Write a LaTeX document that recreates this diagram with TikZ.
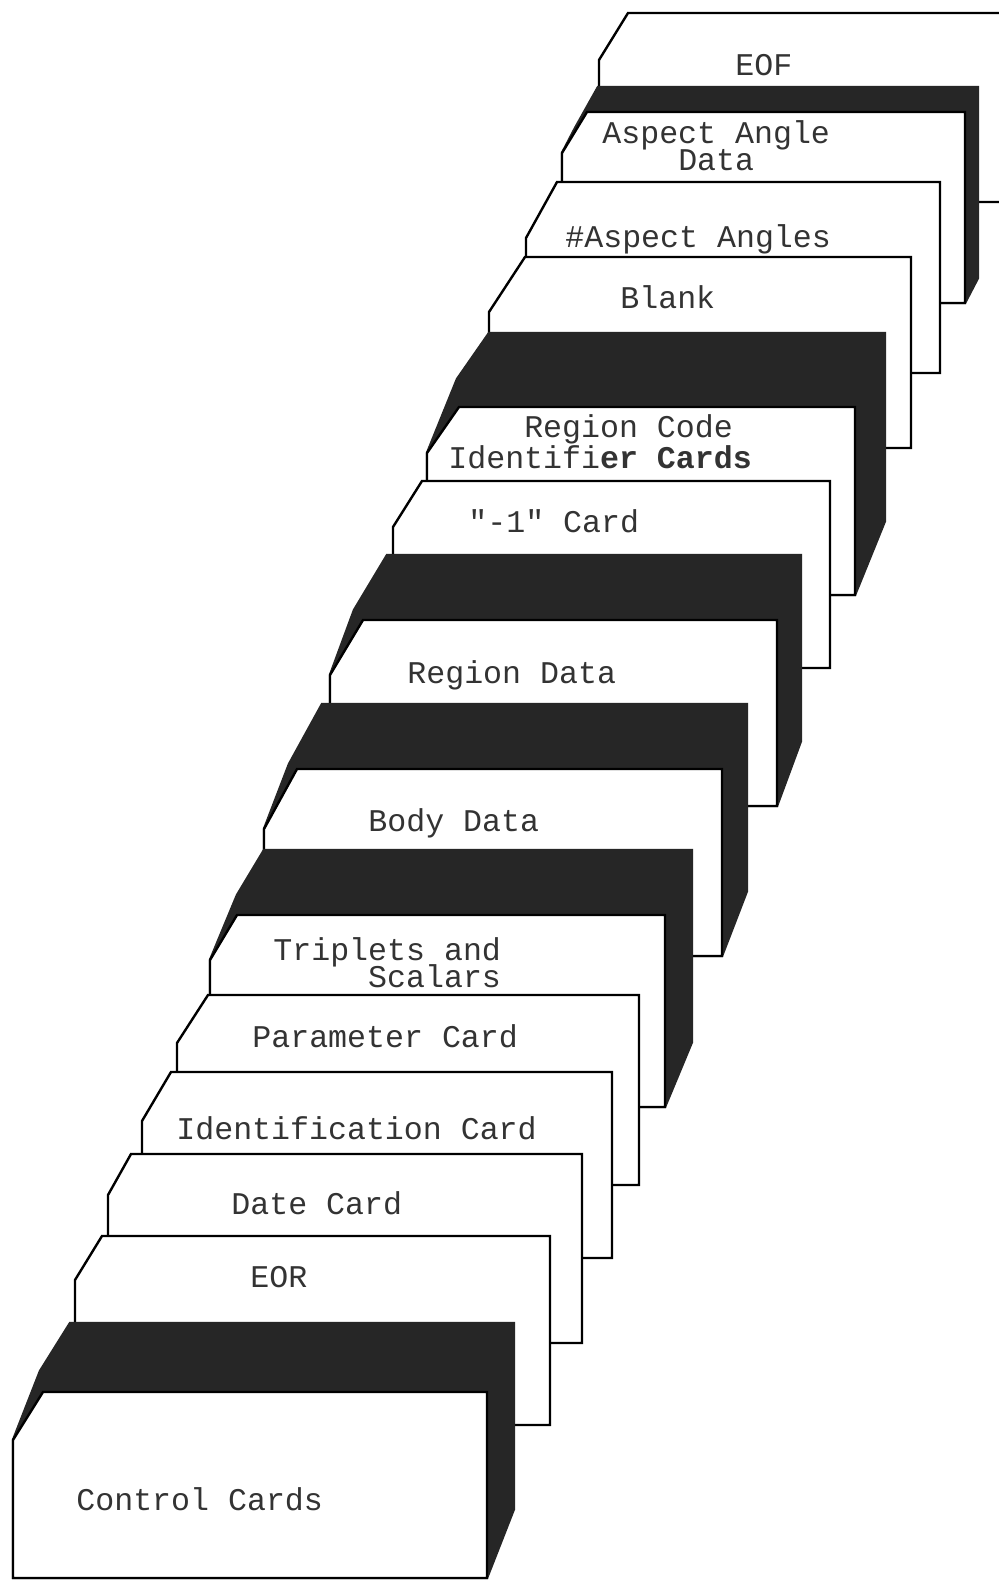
\documentclass[tikz,border=0pt]{standalone}
\usepackage{fontspec}
\setmonofont{Liberation Mono}
\usepackage{tikz}

\begin{document}
\begin{tikzpicture}[x=0.5pt,y=-0.5pt]
\tikzset{card/.style={draw=black,fill=white,line width=1.2pt,line join=miter}}
\tikzset{deck/.style={draw=black!85,fill=black!85,line width=1.2pt,line join=miter}}
\tikzset{lbl/.style={anchor=base west,inner sep=0pt,text=black!80,font={\ttfamily\fontsize{15.8}{15.5}\selectfont\lineskiplimit=-20pt}}}
\useasboundingbox (0,0) rectangle (999,1580);
\clip (0,0) rectangle (999,1580);

\draw [card] (599,202) -- (599,60) -- (628,13) -- (1020,13) -- (1020,202) -- cycle;
\node (eof) at (735,75) [lbl] {EOF};

\draw [deck] (562,303) -- (562,153) -- (575,128) -- (598,87) -- (978,87) -- (978,278) -- (965,303) -- cycle;
\draw [card] (562,303) -- (562,153) -- (587,112) -- (965,112) -- (965,303) -- cycle;
\node (aspdata) at (602,170) [lbl,align=center] {Aspect Angle\\[-2pt]Data};

\draw [card] (526,373) -- (526,238) -- (557,182) -- (940,182) -- (940,373) -- cycle;
\node (naspect) at (565,247) [lbl] {\#Aspect Angles};

\draw [card] (489,448) -- (489,312) -- (525,257) -- (911,257) -- (911,448) -- cycle;
\node (blank) at (620,308) [lbl] {Blank};

\draw [deck] (427,595) -- (427,453) -- (457,379) -- (489,333) -- (885,333) -- (885,521) -- (855,595) -- cycle;
\draw [card] (427,595) -- (427,453) -- (459,407) -- (855,407) -- (855,595) -- cycle;
\node (regcode) at (448,468) [lbl,align=left] {\phantom{Iden}Region Code\\Identifi{\bfseries er Cards}};

\draw [card] (393,668) -- (393,527) -- (422,481) -- (830,481) -- (830,668) -- cycle;
\node (minusone) at (468,532) [lbl] {"-1" Card};

\draw [deck] (330,806) -- (330,675) -- (354,610) -- (387,555) -- (801,555) -- (801,741) -- (777,806) -- cycle;
\draw [card] (330,806) -- (330,675) -- (363,620) -- (777,620) -- (777,806) -- cycle;
\node (regdata) at (407,683) [lbl] {Region Data};

\draw [deck] (264,956) -- (264,829) -- (289,764) -- (322,704) -- (747,704) -- (747,891) -- (722,956) -- cycle;
\draw [card] (264,956) -- (264,829) -- (297,769) -- (722,769) -- (722,956) -- cycle;
\node (bodydata) at (368,831) [lbl] {Body Data};

\draw [deck] (210,1107) -- (210,960) -- (237,895) -- (264,850) -- (692,850) -- (692,1042) -- (665,1107) -- cycle;
\draw [card] (210,1107) -- (210,960) -- (237,915) -- (665,915) -- (665,1107) -- cycle;
\node (triplets) at (273,987) [lbl,align=right] {Triplets and\\[-2pt]Scalars};

\draw [card] (177,1185) -- (177,1043) -- (208,995) -- (639,995) -- (639,1185) -- cycle;
\node (param) at (252,1047) [lbl] {Parameter Card};

\draw [card] (142,1258) -- (142,1121) -- (171,1072) -- (612,1072) -- (612,1258) -- cycle;
\node (ident) at (176,1139) [lbl] {Identification Card};

\draw [card] (108,1343) -- (108,1195) -- (131,1154) -- (582,1154) -- (582,1343) -- cycle;
\node (date) at (231,1214) [lbl] {Date Card};

\draw [card] (75,1425) -- (75,1280) -- (102,1236) -- (550,1236) -- (550,1425) -- cycle;
\node (eor) at (250,1287) [lbl] {EOR};

\draw [deck] (13,1578) -- (13,1440) -- (40,1371) -- (70,1323) -- (514,1323) -- (514,1509) -- (487,1578) -- cycle;
\draw [card] (13,1578) -- (13,1440) -- (43,1392) -- (487,1392) -- (487,1578) -- cycle;
\node (control) at (76,1510) [lbl] {Control Cards};
\end{tikzpicture}
\end{document}
